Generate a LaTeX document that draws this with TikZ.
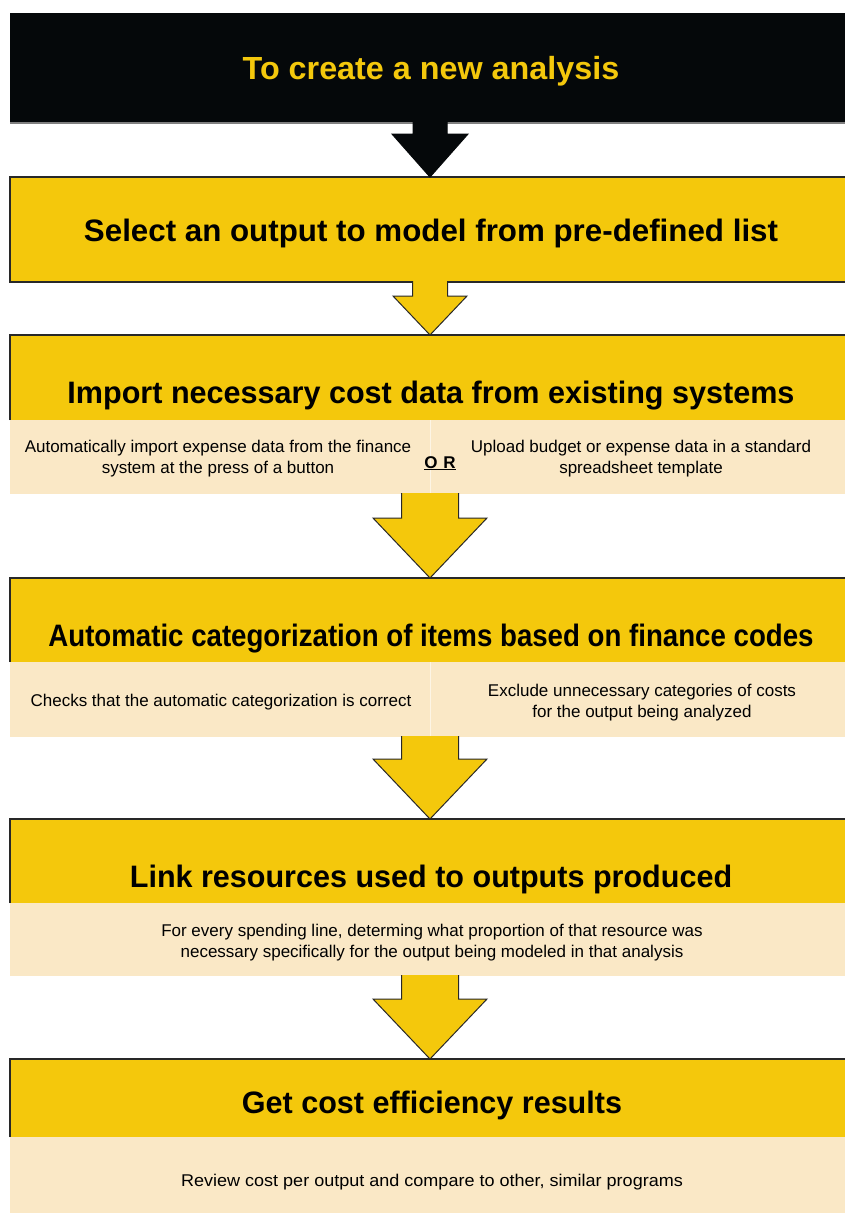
\documentclass[tikz,border=0pt]{standalone}
\usepackage{fontspec}
\usepackage{graphicx}
\setmainfont{Liberation Sans}
\usetikzlibrary{calc}
\definecolor{ybox}{RGB}{244,200,12}
\definecolor{cream}{RGB}{250,232,198}
\definecolor{blk}{RGB}{5,8,10}
\definecolor{edge}{RGB}{40,40,40}
\newcommand\blockarr[6]{%
  \draw[#1] let \p1=(#2.south), \p2=(#3.north) in
    (\x1-#4pt,\y1+1pt) -- (\x1-#4pt,\y2+#6pt) -- (\x1-#5pt,\y2+#6pt) -- (\x1,\y2)
    -- (\x1+#5pt,\y2+#6pt) -- (\x1+#4pt,\y2+#6pt) -- (\x1+#4pt,\y1+1pt);}
\newcommand\hsq[2]{\scalebox{#1}[1]{#2}}
\begin{document}
\begin{tikzpicture}[x=1pt,y=-1pt,
  box/.style={draw=none, inner sep=0pt, outer sep=0pt, minimum width=840pt, anchor=north west},
  titlebox/.style={box, fill=ybox},
  subbox/.style={box, fill=cream},
  border/.style={draw=edge, line width=1.4pt},
  divider/.style={draw=white!55!cream, line width=1pt},
  title/.style={anchor=base, inner sep=0pt, font=\fontsize{31}{36}\selectfont\bfseries, text=black},
  toptitle/.style={anchor=base, inner sep=0pt, font=\fontsize{32}{38}\selectfont\bfseries, text=ybox},
  subtext/.style={inner sep=0pt, align=center, font=\fontsize{17}{21}\selectfont, text=black},
  ortext/.style={anchor=base, inner sep=0pt, font=\fontsize{17}{20}\selectfont\bfseries, text=black},
  yarrow/.style={fill=ybox, draw=edge, line width=1pt, line join=miter},
  karrow/.style={fill=blk, draw=blk, line width=1pt, line join=miter}
]
\useasboundingbox (0,0) rectangle (845,1213);
\clip (0,0) rectangle (845,1213);
\fill[white] (0,0) rectangle (845,1213);

% boxes
\node[box, fill=blk, minimum height=110pt] (b0) at (10,13) {};
\node[titlebox, minimum height=105pt] (b1) at (10,177) {};
\node[titlebox, minimum height=85pt] (t2) at (10,335) {};
\node[subbox, minimum height=74pt] (s2) at (10,420) {};
\node[titlebox, minimum height=84pt] (t3) at (10,578) {};
\node[subbox, minimum height=75pt] (s3) at (10,662) {};
\node[titlebox, minimum height=84pt] (t4) at (10,819) {};
\node[subbox, minimum height=73pt] (s4) at (10,903) {};
\node[titlebox, minimum height=78pt] (t5) at (10,1059) {};
\node[subbox, minimum height=76pt] (s5) at (10,1137) {};

% borders
\draw[draw=gray, line width=1.2pt] (b0.south west) -- (b0.south east);
\draw[border] (b1.south east) -- (b1.south west) -- (b1.north west) -- (b1.north east);
\draw[border] (t2.south west) -- (t2.north west) -- (t2.north east);
\draw[border] (t3.south west) -- (t3.north west) -- (t3.north east);
\draw[border] (t4.south west) -- (t4.north west) -- (t4.north east);
\draw[border] (t5.south west) -- (t5.north west) -- (t5.north east);
\draw[divider] (s2.north) -- (s2.south);
\draw[divider] (s3.north) -- (s3.south);

% arrows
\blockarr{karrow}{b0}{b1}{17}{38}{43}
\blockarr{yarrow}{b1}{t2}{17.5}{37}{39}
\blockarr{yarrow}{s2}{t3}{28.5}{57}{60}
\blockarr{yarrow}{s3}{t4}{28.5}{57}{60}
\blockarr{yarrow}{s4}{t5}{28.5}{57}{60}

% texts
\node[toptitle] (x0) at (431,79) {\hsq{1.01}{To create a new analysis}};
\node[title] (x1) at (431,241) {\hsq{1.01}{Select an output to model from pre-defined list}};
\node[title] (x2) at (431,403) {\hsq{0.986}{Import necessary cost data from existing systems}};
\node[title] (x3) at (431,646) {\hsq{0.892}{Automatic categorization of items based on finance codes}};
\node[title] (x4) at (431,887) {\hsq{0.985}{Link resources used to outputs produced}};
\node[title] (x5) at (432,1113) {\hsq{0.985}{Get cost efficiency results}};

\node[subtext] (y2a) at (218,459) {Automatically import expense data from the finance\\system at the press of a button};
\node[ortext] (or) at (440,468) {\underline{O\kern6pt R}};
\node[subtext] (y2b) at (641,459) {Upload budget or expense data in a standard\\spreadsheet template};
\node[subtext, anchor=base] (y3a) at (221,706) {Checks that the automatic categorization is correct};
\node[subtext] (y3b) at (642,702.5) {Exclude unnecessary categories of costs\\for the output being analyzed};
\node[subtext] (y4) at (432,942.5) {For every spending line, determing what proportion of that resource was\\necessary specifically for the output being modeled in that analysis};
\node[subtext, anchor=base] (y5) at (432,1186) {\hsq{1.06}{Review cost per output and compare to other, similar programs}};
\end{tikzpicture}
\end{document}
